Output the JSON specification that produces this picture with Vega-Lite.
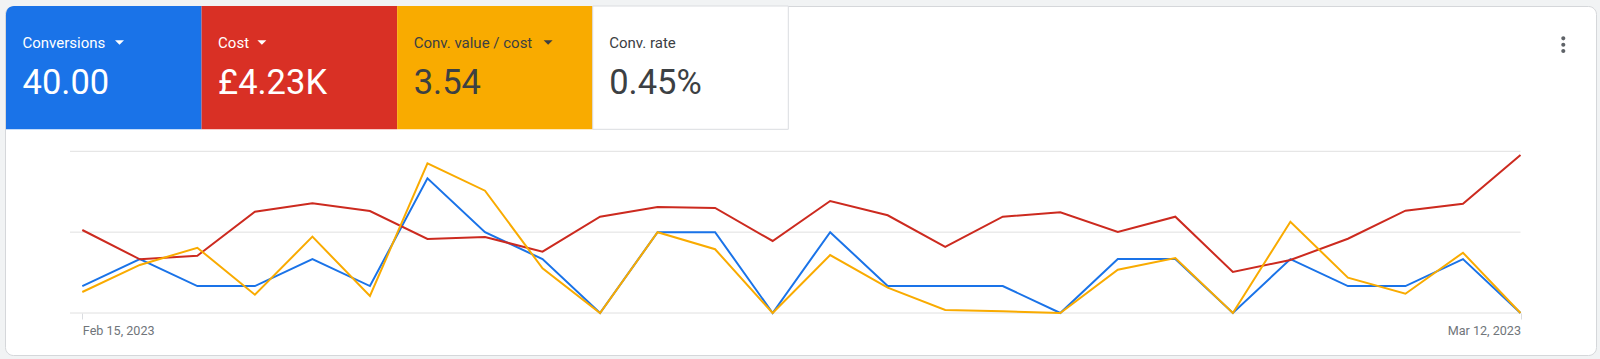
{
  "$schema": "https://vega.github.io/schema/vega-lite/v6.json",
  "width": 1591,
  "height": 349,
  "padding": {"left": 5, "top": 6, "right": 4, "bottom": 4},
  "autosize": {"type": "none"},
  "background": "#f1f3f4",
  "config": {
    "view": {"fill": "#ffffff", "stroke": "#d5d7da", "cornerRadius": 8},
    "font": "Roboto"
  },
  "datasets": {
    "tiles": [
      {"metric": "Conversions", "total": "40.00"},
      {"metric": "Cost", "total": "£4.23K"},
      {"metric": "Conv. value / cost", "total": "3.54"},
      {"metric": "Conv. rate", "total": "0.45%"}
    ],
    "grid": [{"level": 0}, {"level": 3}, {"level": 6}],
    "daily": [
      {"date": "2023-02-15T00:00", "conversions": 1, "cost": 154.0, "roas": 1.82},
      {"date": "2023-02-16T00:00", "conversions": 2, "cost": 99.6, "roas": 4.16},
      {"date": "2023-02-17T00:00", "conversions": 1, "cost": 106.3, "roas": 5.65},
      {"date": "2023-02-18T00:00", "conversions": 1, "cost": 187.9, "roas": 1.58},
      {"date": "2023-02-19T00:00", "conversions": 2, "cost": 203.5, "roas": 6.61},
      {"date": "2023-02-20T00:00", "conversions": 1, "cost": 189.2, "roas": 1.47},
      {"date": "2023-02-21T00:00", "conversions": 5, "cost": 137.3, "roas": 12.96},
      {"date": "2023-02-22T00:00", "conversions": 3, "cost": 141.0, "roas": 10.59},
      {"date": "2023-02-23T00:00", "conversions": 2, "cost": 113.7, "roas": 3.87},
      {"date": "2023-02-24T00:00", "conversions": 0, "cost": 178.7, "roas": 0},
      {"date": "2023-02-25T00:00", "conversions": 3, "cost": 196.7, "roas": 6.99},
      {"date": "2023-02-26T00:00", "conversions": 3, "cost": 194.8, "roas": 5.52},
      {"date": "2023-02-27T00:00", "conversions": 0, "cost": 133.6, "roas": 0},
      {"date": "2023-02-28T00:00", "conversions": 3, "cost": 207.8, "roas": 5.02},
      {"date": "2023-03-01T00:00", "conversions": 1, "cost": 181.3, "roas": 2.19},
      {"date": "2023-03-02T00:00", "conversions": 1, "cost": 122.5, "roas": 0.26},
      {"date": "2023-03-03T00:00", "conversions": 1, "cost": 178.7, "roas": 0.15},
      {"date": "2023-03-04T00:00", "conversions": 0, "cost": 186.8, "roas": 0},
      {"date": "2023-03-05T00:00", "conversions": 2, "cost": 150.3, "roas": 3.75},
      {"date": "2023-03-06T00:00", "conversions": 2, "cost": 178.7, "roas": 4.76},
      {"date": "2023-03-07T00:00", "conversions": 0, "cost": 76.1, "roas": 0},
      {"date": "2023-03-08T00:00", "conversions": 2, "cost": 98.3, "roas": 7.9},
      {"date": "2023-03-09T00:00", "conversions": 1, "cost": 137.8, "roas": 3.06},
      {"date": "2023-03-10T00:00", "conversions": 1, "cost": 189.8, "roas": 1.67},
      {"date": "2023-03-11T00:00", "conversions": 2, "cost": 202.8, "roas": 5.22},
      {"date": "2023-03-12T00:00", "conversions": 0, "cost": 293.1, "roas": 0}
    ]
  },
  "layer": [
    {
      "data": {"name": "tiles"},
      "encoding": {
        "x": {
          "field": "metric", "type": "nominal", "sort": null,
          "scale": {"domain": ["Conversions", "Cost", "Conv. value / cost", "Conv. rate"], "range": [1, 783.3], "paddingInner": 0, "paddingOuter": 0},
          "axis": null
        },
        "y": {"datum": 0, "type": "quantitative", "scale": {"domain": [0, 1], "range": [0, 123.3]}, "axis": null}
      },
      "layer": [
        {
          "mark": {"type": "rect", "cornerRadiusTopLeft": {"expr": "datum.metric === 'Conversions' ? 8 : 0"}},
          "encoding": {
            "y2": {"datum": 1},
            "fill": {
              "field": "metric", "type": "nominal",
              "scale": {"domain": ["Conversions", "Cost", "Conv. value / cost", "Conv. rate"], "range": ["#1a73e8", "#d93025", "#f9ab00", "#ffffff"]},
              "legend": null
            },
            "stroke": {"condition": {"test": "datum.metric === 'Conv. rate'", "value": "#dadce0"}, "value": "transparent"}
          }
        },
        {
          "mark": {"type": "text", "align": "left", "baseline": "alphabetic", "dx": 16.5, "dy": 41.7, "fontSize": 15, "font": "Roboto"},
          "encoding": {
            "x": {"field": "metric", "type": "nominal", "bandPosition": 0},
            "text": {"field": "metric"},
            "color": {"condition": {"test": "datum.metric === 'Conversions' || datum.metric === 'Cost'", "value": "#ffffff"}, "value": "#3c4043"}
          }
        },
        {
          "mark": {"type": "text", "align": "left", "baseline": "alphabetic", "dx": 16.5, "dy": 88, "fontSize": 34.5, "font": "Roboto"},
          "encoding": {
            "x": {"field": "metric", "type": "nominal", "bandPosition": 0},
            "text": {"field": "total"},
            "color": {"condition": {"test": "datum.metric === 'Conversions' || datum.metric === 'Cost'", "value": "#ffffff"}, "value": "#3c4043"}
          }
        },
        {
          "transform": [{"filter": "datum.metric === 'Conversions'"}],
          "mark": {"type": "point", "filled": true, "opacity": 1, "shape": "M-1,-0.5L1,-0.5L0,0.5Z", "size": 81, "color": "#ffffff", "xOffset": 113.5, "yOffset": 36.5},
          "encoding": {"x": {"field": "metric", "type": "nominal", "bandPosition": 0}}
        },
        {
          "transform": [{"filter": "datum.metric === 'Cost'"}],
          "mark": {"type": "point", "filled": true, "opacity": 1, "shape": "M-1,-0.5L1,-0.5L0,0.5Z", "size": 81, "color": "#ffffff", "xOffset": 60.3, "yOffset": 36.5},
          "encoding": {"x": {"field": "metric", "type": "nominal", "bandPosition": 0}}
        },
        {
          "transform": [{"filter": "datum.metric === 'Conv. value / cost'"}],
          "mark": {"type": "point", "filled": true, "opacity": 1, "shape": "M-1,-0.5L1,-0.5L0,0.5Z", "size": 81, "color": "#3c4043", "xOffset": 151, "yOffset": 36.5},
          "encoding": {"x": {"field": "metric", "type": "nominal", "bandPosition": 0}}
        }
      ]
    },
    {
      "layer": [
        {
          "data": {"name": "grid"},
          "mark": {"type": "rule", "color": "#e0e0e0", "strokeWidth": 1},
          "encoding": {
            "x": {"datum": {"year": 2023, "month": 2, "date": 14, "hours": 18, "minutes": 52}, "type": "temporal"},
            "x2": {"datum": {"year": 2023, "month": 3, "date": 12}},
            "y": {"field": "level", "type": "quantitative", "scale": {"domain": [0, 6], "range": [307, 145.3]}, "axis": null}
          }
        },
        {
          "data": {"name": "daily"},
          "mark": {"type": "line", "color": "#1a73e8", "strokeWidth": 2},
          "encoding": {
            "x": {
              "field": "date", "type": "temporal",
              "scale": {"domain": [{"year": 2023, "month": 2, "date": 15}, {"year": 2023, "month": 3, "date": 12}], "range": [77.3, 1515.5]},
              "axis": {
                "values": [{"year": 2023, "month": 2, "date": 15}, {"year": 2023, "month": 3, "date": 12}],
                "format": "%b %-d, %Y",
                "labelFlush": true,
                "labelOverlap": false,
                "domain": false,
                "grid": false,
                "ticks": true,
                "tickSize": 6,
                "tickColor": "#dadce0",
                "labelColor": "#70757a",
                "labelFont": "Roboto",
                "labelFontSize": 12.6,
                "labelPadding": 5,
                "offset": -42,
                "title": null,
                "orient": "bottom"
              }
            },
            "y": {"field": "conversions", "type": "quantitative", "scale": {"domain": [0, 6], "range": [307, 145.3]}, "axis": null}
          }
        },
        {
          "data": {"name": "daily"},
          "mark": {"type": "line", "color": "#cc2a1f", "strokeWidth": 2},
          "encoding": {
            "x": {"field": "date", "type": "temporal"},
            "y": {"field": "cost", "type": "quantitative", "scale": {"domain": [0, 300], "range": [307, 145.3]}, "axis": null}
          }
        },
        {
          "data": {"name": "daily"},
          "mark": {"type": "line", "color": "#f9ab00", "strokeWidth": 2},
          "encoding": {
            "x": {"field": "date", "type": "temporal"},
            "y": {"field": "roas", "type": "quantitative", "scale": {"domain": [0, 14], "range": [307, 145.3]}, "axis": null}
          }
        }
      ],
      "resolve": {"scale": {"y": "independent"}, "axis": {"y": "independent"}}
    },
    {
      "data": {"values": [{"icon": "more"}]},
      "mark": {
        "type": "point", "filled": true, "opacity": 1, "color": "#5f6368", "size": 161,
        "shape": "M0.32,-1A0.32,0.32,0,1,1,-0.32,-1A0.32,0.32,0,1,1,0.32,-1ZM0.32,0A0.32,0.32,0,1,1,-0.32,0A0.32,0.32,0,1,1,0.32,0ZM0.32,1A0.32,0.32,0,1,1,-0.32,1A0.32,0.32,0,1,1,0.32,1Z",
        "xOffset": -32.7, "yOffset": 38.7
      },
      "encoding": {
        "x": {"value": "width"},
        "y": {"value": 0}
      }
    }
  ],
  "resolve": {
    "scale": {"x": "independent", "y": "independent", "color": "independent", "fill": "independent", "stroke": "independent"},
    "axis": {"x": "independent", "y": "independent"}
  }
}
